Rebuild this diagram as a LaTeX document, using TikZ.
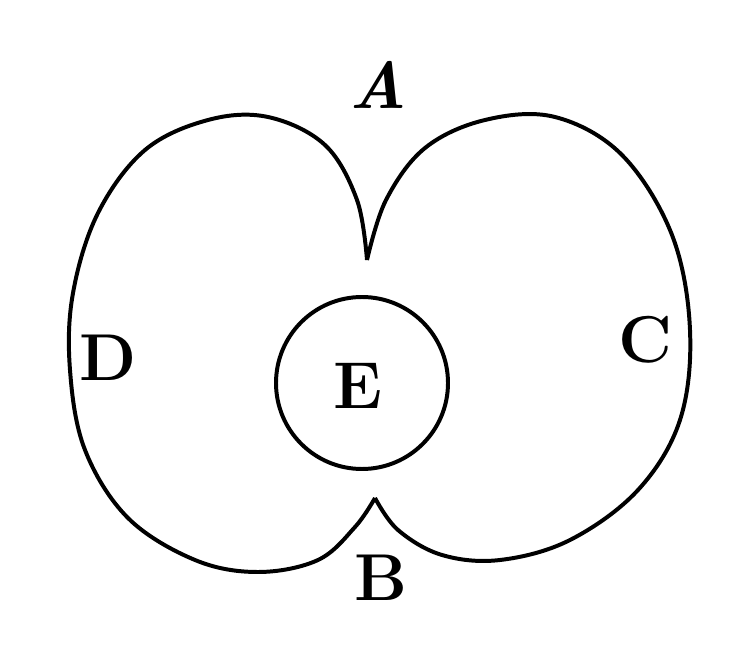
\documentclass[tikz,border=0pt]{standalone}
\usetikzlibrary{positioning}
\tikzset{
  outline/.style={line width=3pt, line join=round},
  letter/.style={font=\fontsize{50}{50}\selectfont\bfseries, inner sep=0pt}
}
\begin{document}
\begin{tikzpicture}[x=0.0265cm, y=-0.0265cm]
  \useasboundingbox (0,0) rectangle (752,670);
  \coordinate (top) at (367,260);
  \coordinate (bot) at (375,498);

  % left lobe
  \draw[outline] plot[smooth, tension=0.6] coordinates {(367,260) (357,200) (325,145) (268,117) (208,120) (145,150) (98,213) (73,293) (70,370) (85,450) (128,518) (195,560) (258,572) (318,560) (355,527) (375,498)};
  % right lobe
  \draw[outline] plot[smooth, tension=0.6] coordinates {(375,498) (398,530) (442,555) (500,560) (570,540) (638,490) (680,420) (690,330) (672,235) (622,155) (555,117) (485,120) (425,148) (386,200) (367,260)};

  \node[draw, outline, circle, minimum size=172*0.0265cm] (inner) at (362,383) {};

  \node[letter] (E) at (358,386) {E};
  \node[letter] (A) at (378,85) {\itshape A};
  \node[letter] (B) at (381,578) {B};
  \node[letter] (D) at (108,358) {D};
  \node[letter] (C) at (645,340) {C};
\end{tikzpicture}
\end{document}
